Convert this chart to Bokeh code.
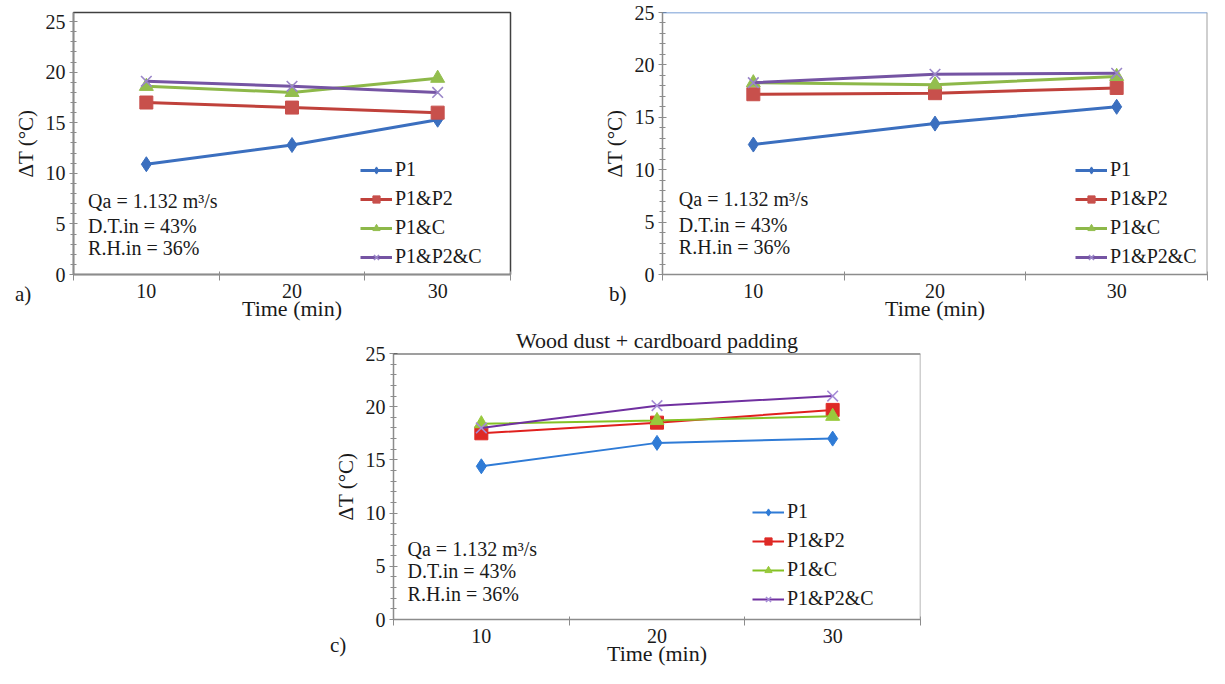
from bokeh.plotting import figure
from bokeh.models import Range1d, FixedTicker, Label, Legend, LegendItem, Span, Spacer, Div
from bokeh.layouts import column, row
from bokeh.embed import file_html
from bokeh.resources import INLINE

FONT = "Liberation Serif"

times = [10, 20, 30]
series_names = ["P1", "P1&P2", "P1&C", "P1&P2&C"]
y_ticks = [0, 5, 10, 15, 20, 25]
x_labels = {10: "10", 20: "20", 30: "30"}

# panel a
a_p1 = [10.9, 12.8, 15.3]
a_p1p2 = [17.0, 16.5, 16.0]
a_p1c = [18.6, 18.0, 19.4]
a_p1p2c = [19.1, 18.6, 18.0]
# panel b
b_p1 = [12.4, 14.4, 16.0]
b_p1p2 = [17.2, 17.3, 17.8]
b_p1c = [18.3, 18.1, 18.9]
b_p1p2c = [18.3, 19.1, 19.2]
# panel c
c_p1 = [14.4, 16.6, 17.0]
c_p1p2 = [17.5, 18.5, 19.7]
c_p1c = [18.4, 18.7, 19.1]
c_p1p2c = [18.0, 20.1, 21.0]

notes = ["Qa = 1.132 m³/s", "D.T.in = 43%", "R.H.in = 36%"]
title_c = "Wood dust + cardboard padding"
tags = ["a)", "b)", "c)"]

colors_ab = ["#3B6FBF", "#C0413B", "#8DB849", "#7554A3"]
fills_ab = ["#3B6FBF", "#C8504C", "#93BE4E", "#9A86C8"]
colors_c = ["#2F7BD6", "#E0201E", "#84C225", "#7030A0"]
fills_c = ["#2F7BD6", "#DE2A26", "#98C93C", "#A58BD6"]
markers = ["diamond", "square", "triangle", "x"]
msizes = [15, 13, 14, 15]

AX = "#8C8C8C"
TXT = "#1a1a1a"


def make_panel(width, height, bl, br, bt, bb, y_end, data, cols, fills, lw,
               leg_loc, note_x, note_ys, title=None):
    p = figure(width=width, height=height, x_range=Range1d(5, 35),
               y_range=Range1d(0, y_end), output_backend="svg",
               toolbar_location=None, min_border_left=bl, min_border_right=br,
               min_border_top=bt, min_border_bottom=bb)
    p.grid.visible = False
    p.outline_line_color = None
    p.background_fill_color = "white"
    p.border_fill_color = "white"

    xa = p.xaxis[0]
    xa.ticker = FixedTicker(ticks=times, minor_ticks=[5, 15, 25, 35])
    xa.major_label_overrides = x_labels
    xa.major_tick_in = 0
    xa.major_tick_out = 0
    xa.minor_tick_in = 3
    xa.minor_tick_out = 6
    xa.axis_label = "Time (min)"
    xa.axis_label_standoff = -5
    xa.major_label_standoff = 3

    ya = p.yaxis[0]
    ya.ticker = FixedTicker(ticks=y_ticks, minor_ticks=list(range(0, 27)))
    ya.major_tick_in = 4
    ya.major_tick_out = 4
    ya.minor_tick_in = 3
    ya.minor_tick_out = 3
    ya.axis_label = "ΔT (°C)"
    ya.axis_label_standoff = 5
    ya.major_label_standoff = 4

    for ax in (xa, ya):
        ax.axis_line_color = AX
        ax.axis_line_width = 1.5
        ax.major_tick_line_color = AX
        ax.minor_tick_line_color = AX
        ax.major_label_text_font = FONT
        ax.major_label_text_font_size = "20px"
        ax.major_label_text_color = TXT
        ax.axis_label_text_font = FONT
        ax.axis_label_text_font_style = "normal"
        ax.axis_label_text_color = TXT
    xa.axis_label_text_font_size = "22px"
    ya.axis_label_text_font_size = "21px"

    items = []
    for name, ys, c, f, m, s in zip(series_names, data, cols, fills, markers, msizes):
        r1 = p.line(times, ys, line_color=c, line_width=lw)
        if m == "x":
            r2 = p.scatter(times, ys, marker=m, size=s, line_color=f, line_width=1.6)
        else:
            r2 = p.scatter(times, ys, marker=m, size=s, fill_color=f, line_color=f, line_width=1)
        items.append(LegendItem(label=name, renderers=[r1, r2]))

    leg = Legend(items=items, location=leg_loc, orientation="vertical",
                 label_text_font=FONT, label_text_font_size="20px",
                 label_text_color=TXT, glyph_width=32, glyph_height=18,
                 label_height=18, spacing=6, padding=0, margin=0,
                 label_standoff=3, border_line_color=None,
                 background_fill_alpha=0)
    p.add_layout(leg, "center")

    for txt, yy in zip(notes, note_ys):
        p.add_layout(Label(x=note_x, y=yy, text=txt, text_font=FONT,
                           text_font_size="20px", text_color=TXT,
                           text_baseline="middle", text_align="left"))
    if title:
        p.title.text = title
        p.title.align = "center"
        p.title.text_font = FONT
        p.title.text_font_size = "22px"
        p.title.text_font_style = "normal"
        p.title.text_color = TXT
        p.title.standoff = 2
    return p


pa = make_panel(590, 324, 73, 80, 8, 50, 25.9,
                [a_p1, a_p1p2, a_p1c, a_p1p2c], colors_ab, fills_ab, 3,
                (287, 6), 6.0, [7.27, 4.75, 2.62])
pa.outline_line_color = "#404040"
pa.outline_line_width = 1.5

pb = make_panel(619, 324, 72, 2, 12, 50, 25,
                [b_p1, b_p1p2, b_p1c, b_p1p2c], colors_ab, fills_ab, 3,
                (413, 6), 5.9, [7.22, 4.75, 2.66])
pb.add_layout(Span(location=25, dimension="width", line_color="#4A7EC8", line_width=1.5))
pb.add_layout(Span(location=35, dimension="height", line_color="#A0A0A0", line_width=2))

pc = make_panel(602, 344, 73, 2, 28, 48, 25,
                [c_p1, c_p1p2, c_p1c, c_p1p2c], colors_c, fills_c, 2,
                (359, 9), 5.8, [6.66, 4.56, 2.37], title=title_c)
pc.add_layout(Span(location=25, dimension="width", line_color="#404040", line_width=2))
pc.add_layout(Span(location=35, dimension="height", line_color="#A0A0A0", line_width=1.5))


def tag_div(text, left, top):
    return Div(text=text, width=24, height=24,
               styles={"position": "absolute", "left": f"{left}px", "top": f"{top}px",
                       "font-family": FONT, "font-size": "21px", "color": TXT})


tag_a = tag_div(tags[0], 10, 274)
tag_b = tag_div(tags[1], 604, 274)
tag_c = tag_div(tags[2], 325, 625)

layout = column(row(pa, pb), row(Spacer(width=320, height=10), pc), tag_a, tag_b, tag_c)

open("out.html", "w").write(file_html(layout, INLINE))
